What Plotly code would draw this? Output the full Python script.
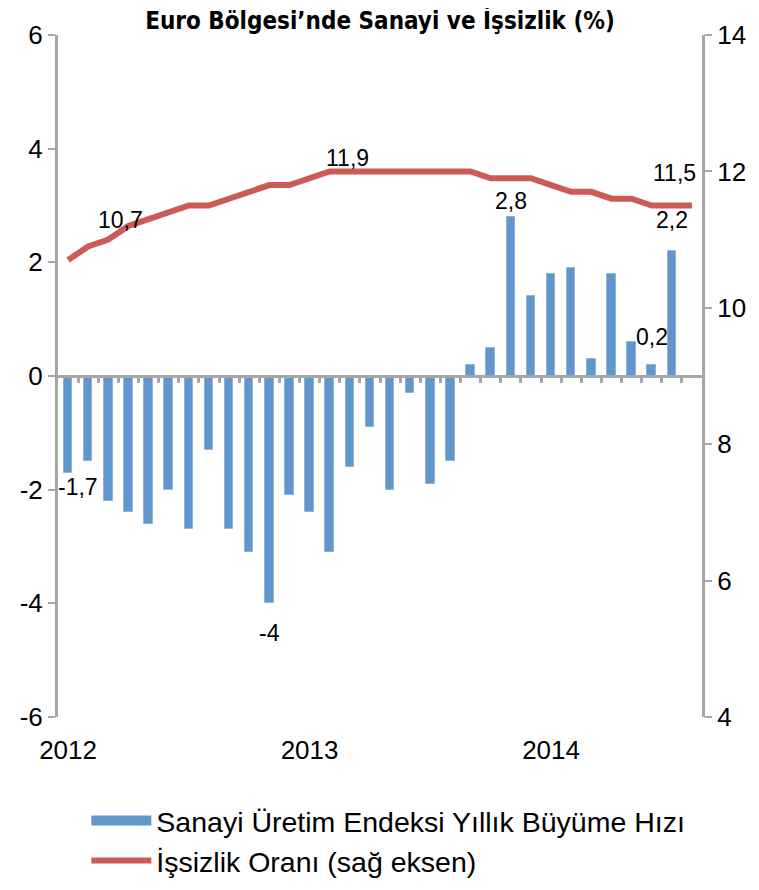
import plotly.graph_objects as go

# ---- data ----
months = list(range(32))  # Jan 2012 .. Aug 2014 (monthly index)
year_ticks = [0, 12, 24]
year_labels = ["2012", "2013", "2014"]

sanayi = [-1.7, -1.5, -2.2, -2.4, -2.6, -2.0, -2.7, -1.3, -2.7, -3.1, -4.0, -2.1,
          -2.4, -3.1, -1.6, -0.9, -2.0, -0.3, -1.9, -1.5, 0.2, 0.5, 2.8, 1.4,
          1.8, 1.9, 0.3, 1.8, 0.6, 0.2, 2.2]
issizlik = [10.7, 10.9, 11.0, 11.2, 11.3, 11.4, 11.5, 11.5, 11.6, 11.7, 11.8, 11.8,
            11.9, 12.0, 12.0, 12.0, 12.0, 12.0, 12.0, 12.0, 12.0, 11.9, 11.9, 11.9,
            11.8, 11.7, 11.7, 11.6, 11.6, 11.5, 11.5, 11.5]

left_ticks = [-6, -4, -2, 0, 2, 4, 6]
left_labels = ["-6", "-4", "-2", "0", "2", "4", "6"]
right_ticks = [4, 6, 8, 10, 12, 14]

name_bar = "Sanayi Üretim Endeksi Yıllık Büyüme Hızı"
name_line = "İşsizlik Oranı (sağ eksen)"
title = "Euro Bölgesi’nde Sanayi ve İşsizlik (%)"

# labelled points: (index, xshift, yshift)
bar_labels = [(0, 10, -14), (10, 0, -30), (22, 0, 16), (29, 0, 28), (30, 0, 31)]
line_labels = [(0, 52, 40), (12, 38, 20), (31, -17, 33)]

BLUE = "#6096CB"
RED = "#CC5B55"
GRAY = "#A6A6A6"
FONT = "Liberation Sans, Arial, sans-serif"

def fmt(v):
    s = f"{v:.1f}".replace(".", ",")
    if s.endswith(",0"):
        s = s[:-2]
    return s

fig = go.Figure()
fig.add_trace(go.Bar(x=months[:len(sanayi)], y=sanayi, marker_color=BLUE,
                     marker_line=dict(color="#8DB4DB", width=1),
                     width=0.42, showlegend=False, name=name_bar,
                     xaxis="x", yaxis="y"))
fig.add_trace(go.Scatter(x=months, y=issizlik, mode="lines",
                         line=dict(color=RED, width=6), showlegend=False,
                         name=name_line, xaxis="x2", yaxis="y2"))
# legend proxies
fig.add_trace(go.Scatter(x=[None], y=[None], mode="lines", name=name_bar,
                         line=dict(color=BLUE, width=11), xaxis="x", yaxis="y"))
fig.add_trace(go.Scatter(x=[None], y=[None], mode="lines", name=name_line,
                         line=dict(color=RED, width=6), xaxis="x", yaxis="y"))

ann = []
for i, xs, ys in bar_labels:
    ann.append(dict(x=months[i], y=sanayi[i], xref="x", yref="y", text=fmt(sanayi[i]),
                    showarrow=False, xshift=xs, yshift=ys,
                    font=dict(size=23, color="black", family=FONT)))
for i, xs, ys in line_labels:
    ann.append(dict(x=months[i], y=issizlik[i], xref="x2", yref="y2", text=fmt(issizlik[i]),
                    showarrow=False, xshift=xs, yshift=ys,
                    font=dict(size=23, color="black", family=FONT)))

fig.update_layout(
    width=759, height=890,
    margin=dict(l=50, r=65, t=20, b=178, pad=0),
    paper_bgcolor="white", plot_bgcolor="white",
    font=dict(family=FONT, color="black"),
    title=dict(text="<b>" + title + "</b>", x=0.5, xref="paper", y=1 - 13 / 890,
               yanchor="middle", xanchor="center",
               font=dict(family="Liberation Sans Narrow, DejaVu Sans Condensed, sans-serif",
                         size=24, color="black")),
    bargap=0,
    annotations=ann,
    showlegend=True,
    legend=dict(orientation="v", x=0.044, xanchor="left", y=-0.115, yanchor="top",
                font=dict(size=28.5, family=FONT, color="black"),
                itemwidth=60, tracegroupgap=0, bgcolor="rgba(0,0,0,0)"),
    xaxis=dict(range=[-0.5, 31.5], tickvals=year_ticks, ticktext=year_labels,
               showline=False, showgrid=False, zeroline=False,
               ticks="outside", ticklen=10, tickcolor="rgba(0,0,0,0)",
               tickfont=dict(size=26, family=FONT, color="black")),
    xaxis2=dict(range=[-0.5, 31.5], overlaying="x", anchor="free", position=0.5,
                showline=True, linecolor=GRAY, linewidth=3,
                tickvals=[m + 0.5 for m in months[:-1]], ticks="outside",
                ticklen=5, tickwidth=3, tickcolor=GRAY, showticklabels=False,
                showgrid=False, zeroline=False),
    yaxis=dict(range=[-6, 6], tickvals=left_ticks, ticktext=left_labels,
               showline=True, linecolor=GRAY,
               linewidth=3, ticks="outside", ticklen=7, tickwidth=2, tickcolor=GRAY,
               showgrid=False, zeroline=False,
               tickfont=dict(size=26, family=FONT, color="black")),
    yaxis2=dict(range=[4, 14], tickvals=right_ticks, overlaying="y", side="right",
                anchor="x2", showline=True, linecolor=GRAY, linewidth=3,
                ticks="outside", ticklen=7, tickwidth=2, tickcolor=GRAY,
                showgrid=False, zeroline=False,
                tickfont=dict(size=26, family=FONT, color="black")),
)

fig.write_html("out.html")
